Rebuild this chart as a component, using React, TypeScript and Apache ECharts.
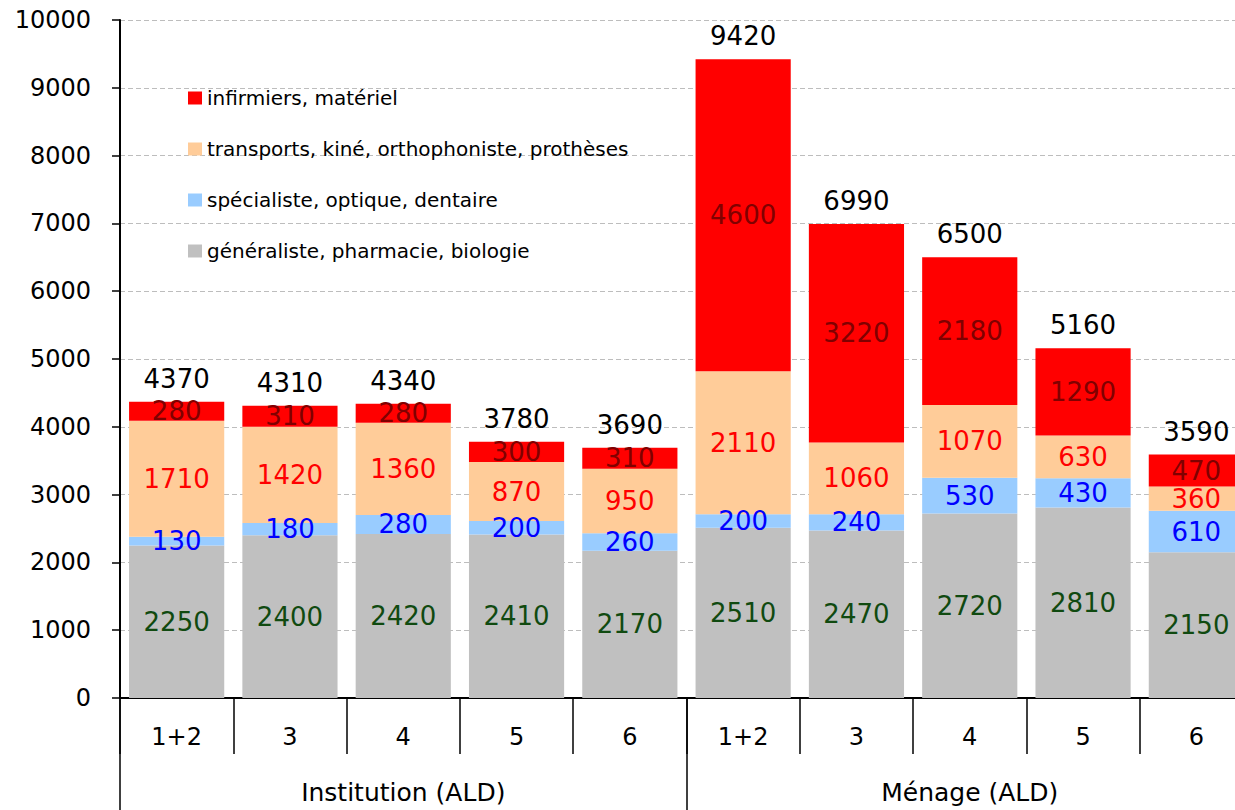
import React, { useEffect, useRef } from "react";
import * as echarts from "echarts";

// Sub-categories (number of people in the household) and their groups
const subCategories = ["1+2", "3", "4", "5", "6", "1+2", "3", "4", "5", "6"];
const groups = ["Institution (ALD)", "Ménage (ALD)"];

// Stacked spending components, bottom to top
const generaliste = [2250, 2400, 2420, 2410, 2170, 2510, 2470, 2720, 2810, 2150];
const specialiste = [130, 180, 280, 200, 260, 200, 240, 530, 430, 610];
const transports = [1710, 1420, 1360, 870, 950, 2110, 1060, 1070, 630, 360];
const infirmiers = [280, 310, 280, 300, 310, 4600, 3220, 2180, 1290, 470];

// Totals written above each column
const totals = [4370, 4310, 4340, 3780, 3690, 9420, 6990, 6500, 5160, 3590];

const yTicks = { min: 0, max: 10000, interval: 1000 };

const FONT = "DejaVu Sans";

const seriesNames = {
  gen: "généraliste, pharmacie, biologie",
  spe: "spécialiste, optique, dentaire",
  tra: "transports, kiné, orthophoniste, prothèses",
  inf: "infirmiers, matériel",
};

function stacked(name: string, data: number[], color: string, labelColor: string) {
  return {
    name,
    type: "bar",
    stack: "total",
    xAxisIndex: 0,
    barCategoryGap: "16%",
    data,
    itemStyle: { color },
    label: {
      show: true,
      position: "inside",
      color: labelColor,
      fontSize: 26,
      fontFamily: FONT,
    },
  };
}

export default function App() {
  const ref = useRef<HTMLDivElement>(null);

  useEffect(() => {
    if (!ref.current) return;
    const chart = echarts.init(ref.current, undefined, { renderer: "svg" });
    chart.setOption({
      animation: false,
      backgroundColor: "#ffffff",
      textStyle: { fontFamily: FONT },
      grid: {
        left: 120,
        right: -18,
        top: 20,
        bottom: 112,
        containLabel: false,
        outerBoundsMode: "none",
      },
      legend: {
        orient: "vertical",
        left: 183,
        top: 83,
        itemWidth: 14,
        itemHeight: 13,
        itemGap: 31,
        icon: "rect",
        data: [seriesNames.inf, seriesNames.tra, seriesNames.spe, seriesNames.gen],
        textStyle: { fontSize: 20, color: "#000", fontFamily: FONT },
      },
      xAxis: [
        {
          type: "category",
          data: subCategories,
          position: "bottom",
          axisLine: { show: true, lineStyle: { color: "#000", width: 2 } },
          axisTick: {
            show: true,
            interval: 0,
            length: 56,
            lineStyle: { color: "#000", width: 1.5 },
          },
          axisLabel: {
            interval: 0,
            margin: 27,
            fontSize: 24,
            color: "#000",
            fontFamily: FONT,
          },
        },
        {
          type: "category",
          data: groups,
          position: "bottom",
          axisLine: { show: false },
          axisTick: {
            show: true,
            interval: 0,
            length: 112,
            lineStyle: { color: "#000", width: 1.5 },
          },
          axisLabel: {
            interval: 0,
            margin: 82,
            fontSize: 25,
            color: "#000",
            fontFamily: FONT,
          },
        },
      ],
      yAxis: {
        type: "value",
        min: yTicks.min,
        max: yTicks.max,
        interval: yTicks.interval,
        axisLine: { show: true, lineStyle: { color: "#000", width: 2 } },
        axisTick: { show: true, length: 8, lineStyle: { color: "#000", width: 1.5 } },
        axisLabel: {
          fontSize: 24,
          color: "#000",
          margin: 29,
          fontFamily: FONT,
          formatter: (v: number) => String(v),
        },
        splitLine: {
          show: true,
          lineStyle: { color: "#bdbdbd", type: [5, 3], width: 1.2 },
        },
      },
      series: [
        stacked(seriesNames.gen, generaliste, "#c0c0c0", "#104a10"),
        stacked(seriesNames.spe, specialiste, "#99ccff", "#0000ff"),
        stacked(seriesNames.tra, transports, "#ffcc99", "#ff0000"),
        stacked(seriesNames.inf, infirmiers, "#ff0000", "#800000"),
        {
          name: "total",
          type: "bar",
          xAxisIndex: 0,
          barGap: "-100%",
          barCategoryGap: "16%",
          data: totals,
          z: 1,
          itemStyle: { color: "rgba(0,0,0,0)" },
          label: {
            show: true,
            position: "top",
            distance: 10,
            color: "#000",
            fontSize: 26,
            fontFamily: FONT,
          },
          silent: true,
        },
      ],
    });
    return () => chart.dispose();
  }, []);

  return (
    <div
      ref={ref}
      style={{ position: "fixed", left: 0, top: 0, width: 1235, height: 810 }}
    />
  );
}
